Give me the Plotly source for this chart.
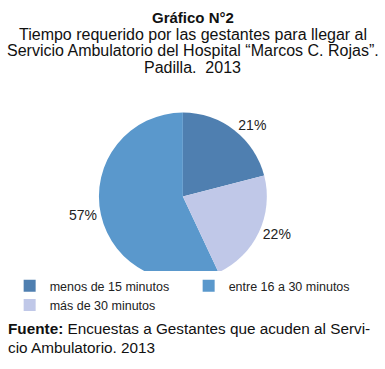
import plotly.graph_objects as go

labels = ["menos de 15 minutos", "entre 16 a 30 minutos", "más de 30 minutos"]
values = [21, 57, 22]
colors = ["#4f7fb0", "#5a98cc", "#c0c8e8"]

title_bold = "Gráfico N°2"
title_lines = ["Tiempo requerido por las gestantes para llegar al",
               "Servicio Ambulatorio del Hospital “Marcos C. Rojas”.",
               "Padilla.  2013"]
source_lines = ["<b>Fuente:</b> Encuestas a Gestantes que acuden al Servi-",
                "cio Ambulatorio. 2013"]

FONT = "Liberation Sans, Arial"

fig = go.Figure()
fig.add_trace(go.Pie(
    labels=labels, values=values, sort=False,
    direction="counterclockwise", rotation=0,
    marker=dict(colors=colors, line=dict(width=0)),
    textinfo="percent", textposition="outside",
    texttemplate="%{percent:.0%}",
    textfont=dict(family=FONT, size=14, color="#222"),
    domain=dict(x=[0.19, 0.76], y=[0.24, 0.695]),
    hoverinfo="label+percent",
))

W, H = 385, 369
ann = [dict(text="<b>" + title_bold + "</b>", x=0.5, y=1 - 17 / H, xref="paper", yref="paper",
            showarrow=False, font=dict(family=FONT, size=15, color="#111"),
            xanchor="center", yanchor="middle")]
for i, t in enumerate(title_lines):
    ann.append(dict(text=t, x=0.5, y=1 - (35 + 16 * i) / H, xref="paper", yref="paper",
                    showarrow=False, font=dict(family=FONT, size=16, color="#111"),
                    xanchor="center", yanchor="middle"))
for i, t in enumerate(source_lines):
    ann.append(dict(text=t, x=6 / W, y=1 - (328 + 19 * i) / H, xref="paper", yref="paper",
                    showarrow=False, font=dict(family=FONT, size=15.3, color="#111"),
                    xanchor="left", yanchor="middle", align="left"))

fig.update_layout(
    width=W, height=H,
    margin=dict(l=0, r=0, t=0, b=0),
    paper_bgcolor="white", plot_bgcolor="white",
    annotations=ann,
    showlegend=True,
    legend=dict(orientation="h", x=0.49, xanchor="center", y=1 - 271 / H, yanchor="top",
                font=dict(family=FONT, size=12.5, color="#222"),
                traceorder="normal", itemwidth=30, entrywidth=134, tracegroupgap=0,
                itemclick=False),
)

fig.write_html("out.html", config={"displayModeBar": False},
               post_script="document.body.style.margin='0';")
